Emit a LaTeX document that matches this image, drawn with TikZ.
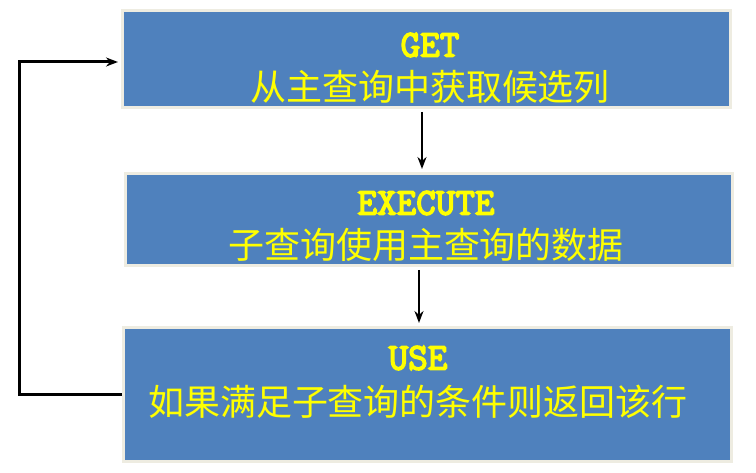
\documentclass[tikz,border=0pt]{standalone}
\usepackage{fontspec}
\usetikzlibrary{arrows.meta,calc}
\newfontfamily\cjk{Noto Sans CJK SC}
\newfontfamily\entt{Latin Modern Mono}[FakeBold=4]
\definecolor{boxblue}{HTML}{4F81BD}
\definecolor{boxedge}{HTML}{EEECE1}
\definecolor{txtyellow}{HTML}{FFFF00}
\begin{document}
\begin{tikzpicture}[x=1pt,y=-1pt,
  stepbox/.style={draw=boxedge,line width=3pt,fill=boxblue,inner sep=0pt},
  entxt/.style={text=txtyellow,font=\entt\fontsize{38}{42}\selectfont,inner sep=0pt},
  zhtxt/.style={text=txtyellow,font=\cjk\fontsize{36}{40}\selectfont,inner sep=0pt},
  arr/.style={-{Stealth[length=12pt,width=9pt]},line width=2.4pt,black}]
\useasboundingbox (0,0) rectangle (756,473);
\fill[white] (0,0) rectangle (756,473);
\node[stepbox,minimum width=608pt,minimum height=97pt] (b1) at (426.5,59) {};
\node[stepbox,minimum width=607pt,minimum height=92pt] (b2) at (429,219.5) {};
\node[stepbox,minimum width=608pt,minimum height=134pt] (b3) at (427.5,394.5) {};
\node[entxt] (t1a) at (430,45) {GET};
\node[zhtxt] (t1b) at (430,87) {从主查询中获取候选列};
\node[entxt] (t2a) at (426,203) {EXECUTE};
\node[zhtxt] (t2b) at (426,245) {子查询使用主查询的数据};
\node[entxt] (t3a) at (418,358) {USE};
\node[zhtxt] (t3b) at (418,402) {如果满足子查询的条件则返回该行};
\coordinate (c1) at (422,0);
\coordinate (c2) at (419,0);
\coordinate (lp) at (19,62);
\draw[arr,shorten <=3pt,shorten >=3pt] (b1.south -| c1) -- (b2.north -| c1);
\draw[arr,shorten <=3pt,shorten >=3pt] (b2.south -| c2) -- (b3.north -| c2);
\draw[arr,line width=3pt,shorten >=3pt] (b3.west) -| (lp) -- (lp -| b1.west);
\end{tikzpicture}
\end{document}
